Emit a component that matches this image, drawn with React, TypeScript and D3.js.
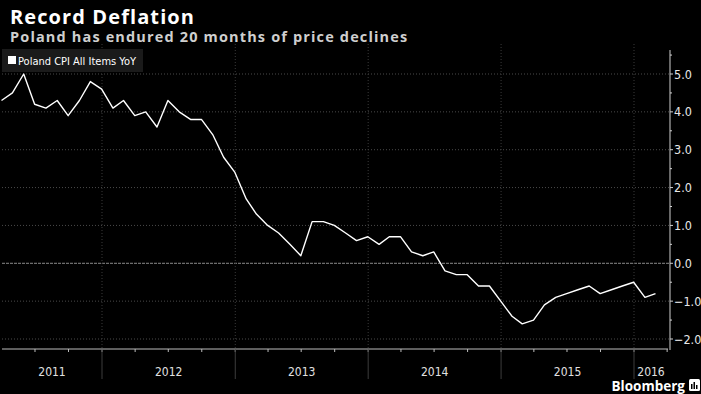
import React from "react";
import * as d3 from "d3";

const months: string[] = [
  "2011-03", "2011-04", "2011-05", "2011-06", "2011-07", "2011-08", "2011-09", "2011-10", "2011-11", "2011-12",
  "2012-01", "2012-02", "2012-03", "2012-04", "2012-05", "2012-06", "2012-07", "2012-08", "2012-09", "2012-10", "2012-11", "2012-12",
  "2013-01", "2013-02", "2013-03", "2013-04", "2013-05", "2013-06", "2013-07", "2013-08", "2013-09", "2013-10", "2013-11", "2013-12",
  "2014-01", "2014-02", "2014-03", "2014-04", "2014-05", "2014-06", "2014-07", "2014-08", "2014-09", "2014-10", "2014-11", "2014-12",
  "2015-01", "2015-02", "2015-03", "2015-04", "2015-05", "2015-06", "2015-07", "2015-08", "2015-09", "2015-10", "2015-11", "2015-12",
  "2016-01", "2016-02",
];

const cpi: number[] = [
  4.3, 4.5, 5.0, 4.2, 4.1, 4.3, 3.9, 4.3, 4.8, 4.6,
  4.1, 4.3, 3.9, 4.0, 3.6, 4.3, 4.0, 3.8, 3.8, 3.4, 2.8, 2.4,
  1.7, 1.3, 1.0, 0.8, 0.5, 0.2, 1.1, 1.1, 1.0, 0.8, 0.6, 0.7,
  0.5, 0.7, 0.7, 0.3, 0.2, 0.3, -0.2, -0.3, -0.3, -0.6, -0.6, -1.0,
  -1.4, -1.6, -1.5, -1.1, -0.9, -0.8, -0.7, -0.6, -0.8, -0.7, -0.6, -0.5,
  -0.9, -0.8,
];

const yTicks: number[] = [-2, -1, 0, 1, 2, 3, 4, 5];
const years: number[] = [2011, 2012, 2013, 2014, 2015, 2016];

const title = "Record Deflation";
const subtitle = "Poland has endured 20 months of price declines";
const legendLabel = "Poland CPI All Items YoY";

const W = 701;
const H = 394;
const plotLeft = 2;
const plotRight = 668;
const axisX = 670;
const plotTop = 50;
const axisY = 349;

function monthEnd(s: string): Date {
  const [y, m] = s.split("-").map(Number);
  return new Date(y, m, 0);
}

export default function App() {
  const x = d3
    .scaleTime()
    .domain([new Date(2012, 0, 1), new Date(2016, 0, 1)])
    .range([102, 634]);
  const y = d3.scaleLinear().domain([-2, 5]).range([339, 74]);

  const data = months.map((m, i) => ({ date: monthEnd(m), value: cpi[i] }));
  const line = d3
    .line<{ date: Date; value: number }>()
    .x((d) => x(d.date))
    .y((d) => y(d.value));

  const quarterTicks = d3.timeMonth
    .every(3)!
    .range(new Date(2011, 0, 1), new Date(2016, 6, 1))
    .map((d) => x(d))
    .filter((px) => px > plotLeft + 2 && px < plotRight);

  const yearStarts = years.map((yr) => x(new Date(yr, 0, 1)));
  const yearEnds = years.map((yr) => x(new Date(yr + 1, 0, 1)));
  const minorY = d3.range(-2, 5.6, 0.5).filter((v) => Math.abs(v - Math.round(v)) > 0.01);

  const labelFont = "'DejaVu Sans', sans-serif";
  const headFont = "'Open Sans', sans-serif";

  return (
    <svg
      width={W}
      height={H}
      style={{ position: "absolute", left: 0, top: 0, display: "block" }}
    >
      <rect x={0} y={0} width={W} height={H} fill="#000" />
      <text x={10} y={23.5} fill="#fff" fontFamily={headFont} fontWeight={700} fontSize={20} letterSpacing={1.1}>
        {title}
      </text>
      <text x={10} y={41.5} fill="#cfcfcf" fontFamily={headFont} fontWeight={700} fontSize={14.5} letterSpacing={1.15}>
        {subtitle}
      </text>

      {/* horizontal gridlines */}
      {yTicks.map((t) => (
        <line
          key={"g" + t}
          x1={plotLeft}
          x2={axisX}
          y1={y(t)}
          y2={y(t)}
          stroke={t === 0 ? "#8a8a8a" : "#4a4a4a"}
          strokeWidth={1}
          strokeDasharray={t === 0 ? "3,1" : "1,2"}
        />
      ))}
      {/* vertical year gridlines */}
      {yearStarts
        .filter((px) => px > plotLeft && px < plotRight)
        .map((px, i) => (
          <line
            key={"v" + i}
            x1={px}
            x2={px}
            y1={plotTop - 6}
            y2={axisY}
            stroke="#3a3a3a"
            strokeDasharray="1,2"
          />
        ))}

      {/* legend */}
      <rect x={2} y={49} width={141} height={23} fill="#1a1a1a" />
      <rect x={8} y={56} width={8} height={8} fill="#fff" />
      <text x={18} y={64.5} fill="#fff" fontFamily={labelFont} fontStretch="condensed" fontSize={11}>
        {legendLabel}
      </text>

      {/* series */}
      <path d={line(data) || ""} fill="none" stroke="#fff" strokeWidth={1.4} strokeLinejoin="round" />

      {/* x axis */}
      <line x1={plotLeft} x2={plotRight} y1={axisY} y2={axisY} stroke="#bdbdbd" />
      {quarterTicks.map((px, i) => (
        <line key={"q" + i} x1={px} x2={px} y1={axisY} y2={axisY + 3} stroke="#bdbdbd" />
      ))}
      {yearStarts
        .filter((px) => px > plotLeft && px < plotRight)
        .map((px, i) => (
          <line key={"ys" + i} x1={px} x2={px} y1={axisY} y2={379} stroke="#3c3c3c" />
        ))}
      {years.map((yr, i) => {
        const a = Math.max(yearStarts[i], plotLeft);
        const b = Math.min(yearEnds[i], plotRight);
        return (
          <text
            key={"yl" + yr}
            x={(a + b) / 2}
            y={375.5}
            textAnchor="middle"
            fill="#e0e0e0"
            fontFamily={labelFont}
            fontStretch="condensed"
            fontSize={12}
          >
            {yr}
          </text>
        );
      })}

      {/* y axis */}
      <line x1={axisX} x2={axisX} y1={plotTop} y2={axisY + 1} stroke="#d0d0d0" />
      {yTicks.map((t) => (
        <g key={"yt" + t}>
          <line x1={axisX} x2={axisX + 3} y1={y(t)} y2={y(t)} stroke="#d0d0d0" />
          <text
            x={axisX + 4}
            y={y(t) + 4.5}
            fill="#e8e8e8"
            fontFamily={labelFont}
            fontStretch="condensed"
            fontSize={12.5}
          >
            {d3.format(".1f")(t)}
          </text>
        </g>
      ))}
      {minorY.map((v) => (
        <line key={"mn" + v} x1={axisX} x2={axisX + 2} y1={y(v)} y2={y(v)} stroke="#d0d0d0" />
      ))}

      {/* Bloomberg logo */}
      <text
        x={685}
        y={391}
        textAnchor="end"
        fill="#fff"
        fontFamily="'Open Sans', sans-serif"
        fontWeight={700}
        fontSize={13.5}
      >
        Bloomberg
      </text>
      <rect x={689} y={379} width={11} height={12} rx={1.5} fill="#fff" />
      <rect x={691} y={384} width={1.5} height={5} fill="#000" />
      <rect x={693.5} y={382} width={1.5} height={7} fill="#000" />
      <rect x={696} y={385} width={1.5} height={4} fill="#000" />
    </svg>
  );
}
